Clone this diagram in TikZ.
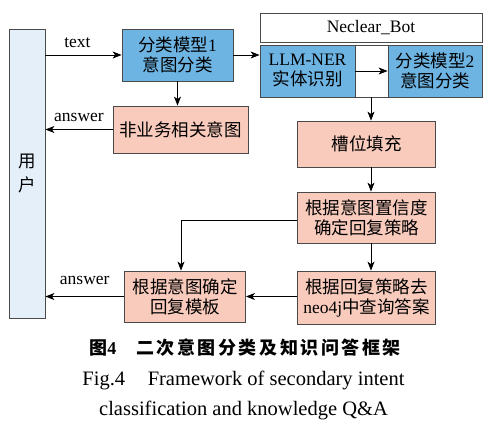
\documentclass[tikz,border=0pt]{standalone}
\usepackage{fontspec}
\setmainfont{Liberation Serif}
\newfontfamily\cjk{Noto Sans CJK SC}
\newfontfamily\cjkcap[LetterSpace=14]{Noto Sans CJK SC}
\usepackage{xcolor}
\usetikzlibrary{arrows.meta}

\definecolor{userblue}{HTML}{E4EFFA}
\definecolor{modelblue}{HTML}{6DB4E3}
\definecolor{slotpink}{HTML}{F8CBBC}
\definecolor{edgegray}{HTML}{4A4A4A}
\newcommand{\zh}[1]{{\cjk #1}}

\begin{document}
\begin{tikzpicture}[x=1pt, y=-1pt, line width=0.8pt,
    >={Stealth[length=9pt,width=7pt,inset=2.5pt]},
    every node/.style={font=\fontsize{17.5}{20}\selectfont, inner sep=0pt, align=center},
    bluebox/.style={draw=edgegray, fill=modelblue},
    pinkbox/.style={draw=edgegray, fill=slotpink},
    whitebox/.style={draw=edgegray, fill=white}]

    \useasboundingbox (0,0) rectangle (496,424);

    % Utente
    \node[draw=edgegray, fill=userblue, minimum width=36pt, minimum height=289pt,
          font=\cjk\fontsize{17.5}{24}\selectfont] (user) at (27,173.5) {用\\户};

    % Primo classificatore
    \node[bluebox, minimum width=111pt, minimum height=52pt] (cls1) at (177.5,55) {\zh{分类模型}1\\\zh{意图分类}};
    \node[pinkbox, minimum width=135pt, minimum height=47pt] (other) at (180.5,129.5) {\zh{非业务相关意图}};

    % Neclear_Bot
    \node[whitebox, minimum width=222pt, minimum height=29pt] (bottitle) at (371,27.5) {Neclear\_Bot};
    \node[whitebox, minimum width=222pt, minimum height=52pt] (bot) at (371,71) {};
    \node[bluebox, minimum width=95pt, minimum height=52pt] (ner) at (307.5,71) {LLM-NER\\\zh{实体识别}};
    \node[bluebox, minimum width=94pt, minimum height=52pt] (cls2) at (435,71) {\zh{分类模型}2\\\zh{意图分类}};

    % Catena di risposta
    \node[pinkbox, minimum width=138pt, minimum height=46pt] (slot) at (366.5,144) {\zh{槽位填充}};
    \node[pinkbox, minimum width=138pt, minimum height=51pt] (conf) at (366.5,217.5) {\zh{根据意图置信度}\\\zh{确定回复策略}};
    \node[pinkbox, minimum width=138pt, minimum height=53pt] (query) at (366.5,297.5) {\zh{根据回复策略去}\\neo4j\zh{中查询答案}};
    \node[pinkbox, minimum width=121pt, minimum height=51pt] (tmpl) at (185,296.5) {\zh{根据意图确定}\\\zh{回复模板}};
    \coordinate (turn) at (181,220);

    % Frecce
    \draw[->] (user.east |- cls1.west) -- node[above=7pt, pos=0.42] {text} (cls1.west);
    \draw[->] (cls1.south) -- (cls1.south |- other.north);
    \draw[->] (other.west) -- node[above=7.5pt, pos=0.5] {answer} (other.west -| user.east);
    \draw[->] (cls1.east) -- (cls1.east -| ner.west);
    \draw[->] (ner.east) -- (cls2.west);
    \draw[->] (bot.south) -- (bot.south |- slot.north);
    \draw[->] (slot.south -| bot.south) -- (conf.north -| bot.south);
    \draw[->] (conf.south -| bot.south) -- (query.north -| bot.south);
    \draw[->] (conf.west |- turn) -- (turn) -- (turn |- tmpl.north);
    \draw[->] (query.west |- tmpl.east) -- (tmpl.east);
    \draw[->] (tmpl.west) -- node[above=11.5pt, pos=0.5] {answer} (tmpl.west -| user.east);

    % Didascalia
    \node[font=\cjkcap\bfseries\fontsize{18}{20}\selectfont] (capzh) at (245,347.5)
        {图{\rmfamily 4}\hspace{20pt}二次意图分类及知识问答框架};
    \node[anchor=base, font=\fontsize{20.5}{24}\selectfont] (capen) at (243.5,385)
        {Fig.4\hspace{1.1em}Framework of secondary intent};
    \node[anchor=base, font=\fontsize{20.5}{24}\selectfont] (capentwo) at (243.5,415)
        {classification and knowledge Q\&A};
\end{tikzpicture}
\end{document}
